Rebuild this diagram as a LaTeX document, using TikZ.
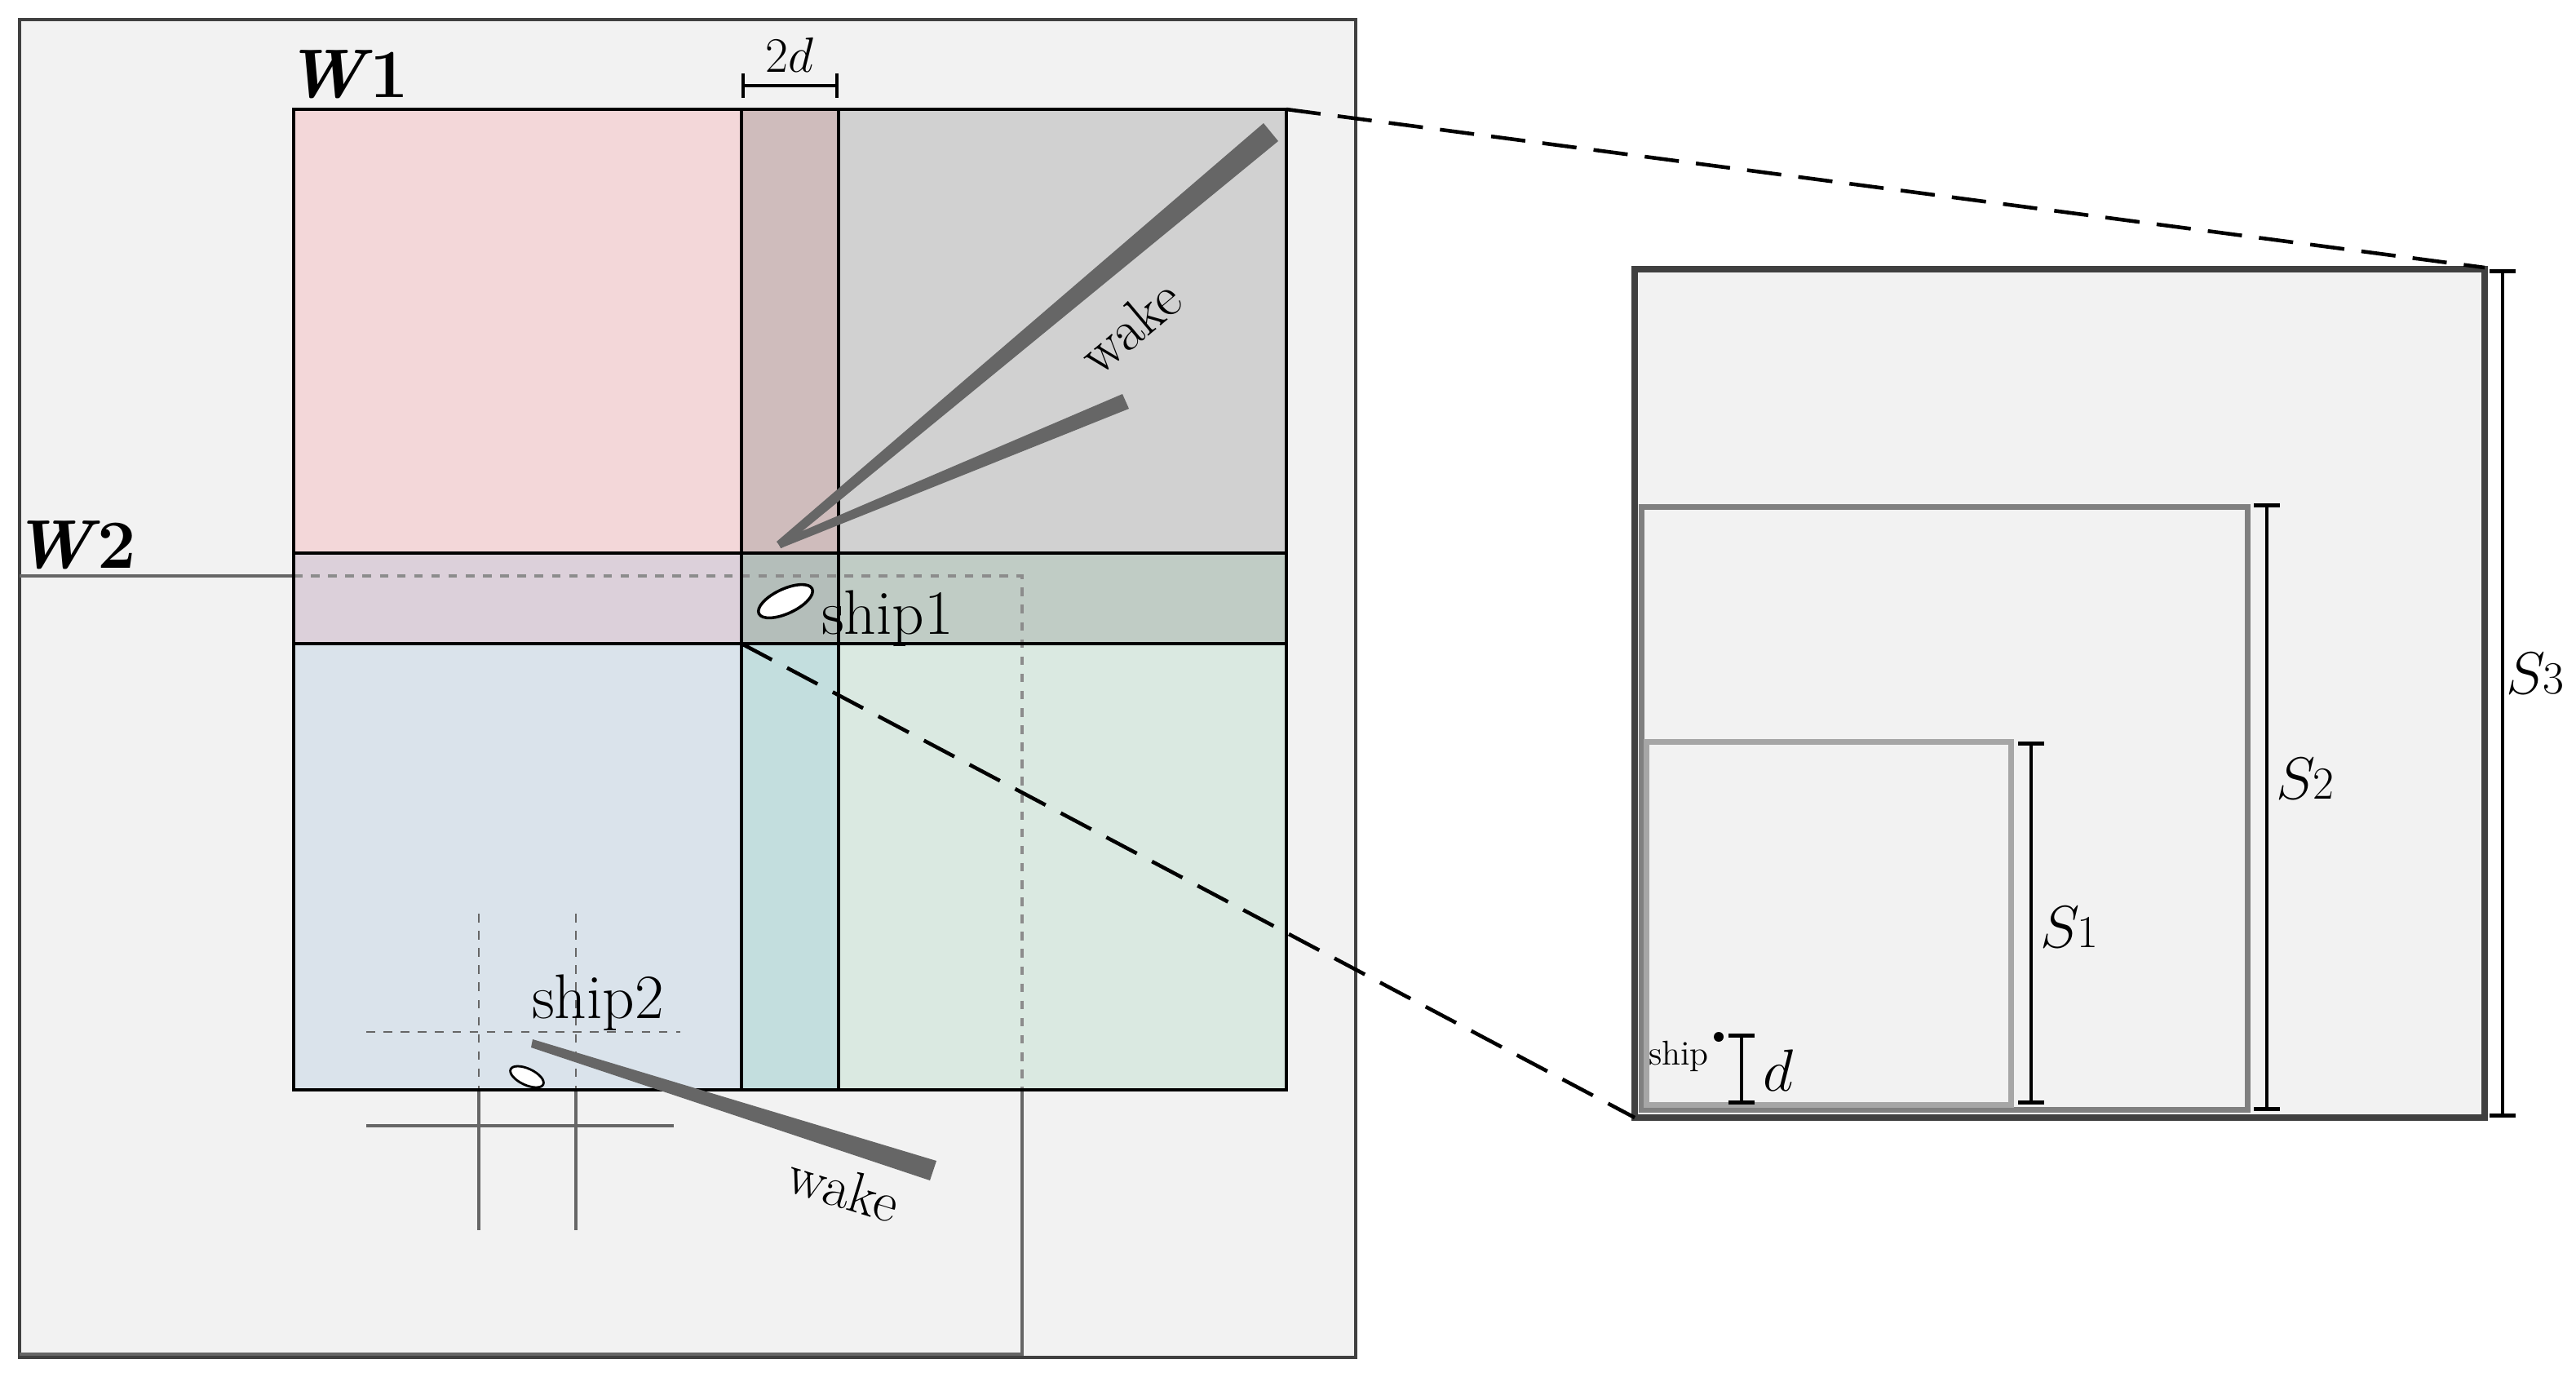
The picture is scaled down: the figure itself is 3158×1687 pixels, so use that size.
\documentclass[tikz,border=0pt]{standalone}
\usetikzlibrary{shapes.geometric}
\begin{document}
\begin{tikzpicture}[x=0.01cm,y=-0.01cm,
  lbl/.style={inner sep=0pt,font=\fontsize{22}{24}\selectfont},
  wk/.style={fill=black!60,draw=none},
  dimbar/.style={line width=1.3pt,|-|},
  cell/.style={draw=black,line width=1.4pt}]
\useasboundingbox (0,0) rectangle (3158,1687);
\fill[white] (0,0) rectangle (3158,1687);
% outer frame
\draw[fill=black!5,draw=black!75,line width=1.3pt] (24,24) rectangle (1662,1664);
% W1 cells
\fill[fill={rgb,255:red,243;green,215;blue,217}] (360,134) rectangle (909,678);
\fill[fill={rgb,255:red,207;green,188;blue,188}] (909,134) rectangle (1028,678);
\fill[fill={rgb,255:red,209;green,209;blue,209}] (1028,134) rectangle (1577,678);
\fill[fill={rgb,255:red,220;green,208;blue,218}] (360,678) rectangle (909,789);
\fill[fill={rgb,255:red,180;green,190;blue,186}] (909,678) rectangle (1028,789);
\fill[fill={rgb,255:red,192;green,204;blue,197}] (1028,678) rectangle (1577,789);
\fill[fill={rgb,255:red,218;green,227;blue,235}] (360,789) rectangle (909,1336);
\fill[fill={rgb,255:red,195;green,222;blue,222}] (909,789) rectangle (1028,1336);
\fill[fill={rgb,255:red,218;green,233;blue,225}] (1028,789) rectangle (1577,1336);
% W2
\draw[black!60,line width=0.9pt] (24,706) -- (360,706);
\draw[black!45,dashed,line width=0.9pt] (360,706) -- (1253,706) -- (1253,1336);
\draw[black!60,line width=0.9pt] (1253,1336) -- (1253,1660) -- (24,1660);
% grid ship2
\draw[black!60,dashed,line width=0.8pt] (587,1120) -- (587,1336) (706,1120) -- (706,1336) (449,1265) -- (834,1265);
\draw[black!60,line width=0.9pt] (587,1336) -- (587,1508) (706,1336) -- (706,1508) (449,1380) -- (826,1380);
% W1 lines
\draw[cell] (360,134) rectangle (1577,1336);
\draw[cell] (909,134) -- (909,1336) (1028,134) -- (1028,1336) (360,678) -- (1577,678) (360,789) -- (1577,789);
% wakes
\fill[wk] (952,664) -- (1549,151) -- (1567,173) -- (958,672) -- cycle;
\fill[wk] (953,664) -- (1376,483) -- (1384,501) -- (957,672) -- cycle;
\fill[wk] (651,1284) -- (1140,1447) -- (1148,1423) -- (653,1274) -- cycle;
% ships
\node[draw=black,fill=white,ellipse,minimum width=0.72cm,minimum height=0.3cm,inner sep=0pt,rotate=25,line width=1pt] (s1) at (963,737) {};
\node[draw=black,fill=white,ellipse,minimum width=0.44cm,minimum height=0.2cm,inner sep=0pt,rotate=-25,line width=0.8pt] (s2) at (646,1320) {};
\node[lbl] (t1) at (1088,758) {ship1};
\node[lbl] (t2) at (733,1229) {ship2};
\node[lbl,font=\fontsize{20}{22}\selectfont,rotate=40] (w1) at (1385,400) {wake};
\node[lbl,font=\fontsize{20}{22}\selectfont,rotate=-17] (w2) at (1035,1457) {wake};
\node[lbl,font=\fontsize{24}{26}\selectfont\bfseries] (W1) at (425,91) {\textit{W}\kern-1pt1};
\node[lbl,font=\fontsize{24}{26}\selectfont\bfseries] (W2) at (91,668) {\textit{W}\kern-1pt2};
\coordinate (b1) at (909,105); \coordinate (b2) at (1028,105);
\draw[line width=1.2pt,|-|] (b1) -- (b2);
\node[lbl,font=\fontsize{18}{20}\selectfont] (dd) at (968,67) {$2d$};
% right panel
\draw[fill=black!5,draw=black!75,line width=2.2pt] (2004,330) rectangle (3046,1370);
\draw[fill=black!5,draw=black!50,line width=2pt] (2012,621) rectangle (2755,1360);
\draw[fill=black!5,draw=black!35,line width=2pt] (2018,909) rectangle (2465,1354);
\draw[black!75,line width=2.2pt] (2004,1370) -- (3046,1370);
% connectors
\coordinate (c1) at (1577,134); \coordinate (c2) at (3046,328);
\coordinate (c3) at (909,789); \coordinate (c4) at (2004,1370);
\draw[line width=1.3pt,dash pattern=on 12pt off 6pt] (c1) -- (c2);
\draw[line width=1.3pt,dash pattern=on 12pt off 6pt] (c3) -- (c4);
% dimension bars
\draw[dimbar] (2490,909) -- (2490,1354);
\draw[dimbar] (2779,617) -- (2779,1362);
\draw[dimbar] (3068,330) -- (3068,1370);
\draw[dimbar] (2135,1267) -- (2135,1354);
\node[lbl,font=\fontsize{22}{24}\selectfont] (S1) at (2537,1137) {$S$\kern-1pt{\fontsize{16}{18}\selectfont 1}};
\node[lbl,font=\fontsize{22}{24}\selectfont] (S2) at (2826,955) {$S$\kern-1pt{\fontsize{16}{18}\selectfont 2}};
\node[lbl,font=\fontsize{22}{24}\selectfont] (S3) at (3108,826) {$S$\kern-1pt{\fontsize{16}{18}\selectfont 3}};
\node[lbl,font=\fontsize{22}{24}\selectfont] (dl) at (2180,1312) {$d$};
\fill (2107,1271) circle (0.06cm);
\node[lbl,font=\fontsize{12}{14}\selectfont] (sh) at (2058,1295) {ship};
\end{tikzpicture}
\end{document}
